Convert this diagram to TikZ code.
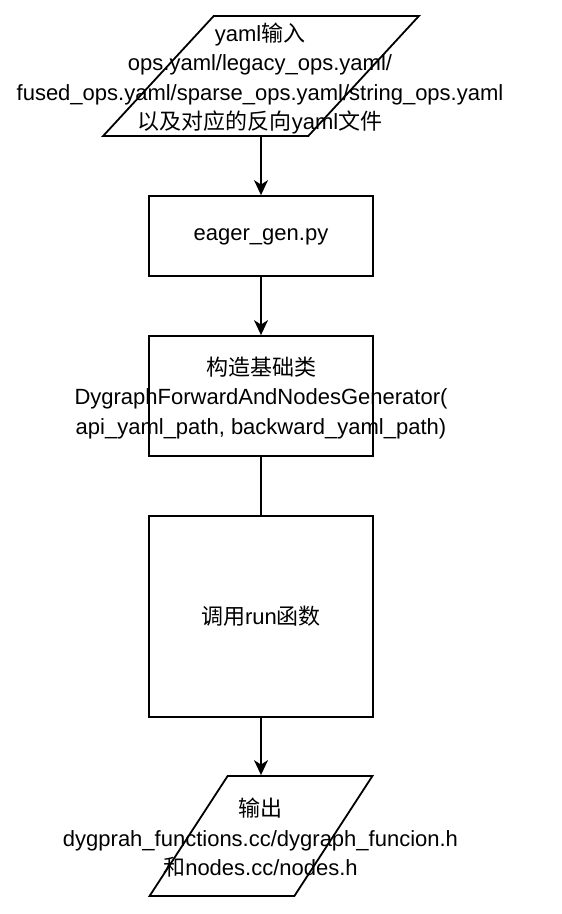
\documentclass[tikz,border=0pt]{standalone}
\usepackage{fontspec}
\setmainfont{Liberation Sans}
\newfontfamily\cjk{Noto Sans CJK SC}
\usepackage{tikz}
\usetikzlibrary{shapes.geometric,arrows.meta}

\begin{document}
\begin{tikzpicture}[x=1pt,y=1pt,yscale=-1,xscale=1,
  io/.style={draw,line width=1.8pt,trapezium,trapezium left angle=73.7,trapezium right angle=106.3,trapezium stretches=true,inner sep=2pt},
  box/.style={draw,line width=1.8pt,minimum width=224,inner sep=2pt},
  lbl/.style={align=center,inner sep=0pt,font=\fontsize{22}{29.5}\selectfont},
  arr/.style={line width=1.8pt,-{Stealth[length=15pt,width=14pt,inset=4.5pt]}}]

\useasboundingbox (0,0) rectangle (562,914);

\node [io,minimum width=316,minimum height=120] (inp) at (261,76) {\strut};

\node [lbl] (inptxt) at (260,78.5) {yaml{\cjk 输入}\\ops.yaml/legacy\_ops.yaml/\\fused\_ops.yaml/sparse\_ops.yaml/string\_ops.yaml\\{\cjk 以及对应的反向}yaml{\cjk 文件}};

\node [box,minimum height=80] (eager) at (261,236) {};

\node [lbl] (eagertxt) at (261,237) {eager\_gen.py};

\node [box,minimum height=120] (gen) at (261,396) {};

\node [lbl] (gentxt) at (261,398) {{\cjk 构造基础类}\\DygraphForwardAndNodesGenerator(\\api\_yaml\_path, backward\_yaml\_path)};

\node [box,minimum height=201] (run) at (261,616.5) {};

\node [lbl] (runtxt) at (261,616) {{\cjk 调用}run{\cjk 函数}};

\node [io,minimum width=223,minimum height=120] (out) at (261,836) {\strut};

\node [lbl] (outtxt) at (260.5,838) {{\cjk 输出}\\dygprah\_functions.cc/dygraph\_funcion.h\\{\cjk 和}nodes.cc/nodes.h};

\draw [arr] (inp) -- (eager) ;

\draw [arr] (eager) -- (gen) ;

\draw [line width=1.8pt] (gen) -- (run) ;

\draw [arr] (run) -- (out) ;

\end{tikzpicture}
\end{document}
